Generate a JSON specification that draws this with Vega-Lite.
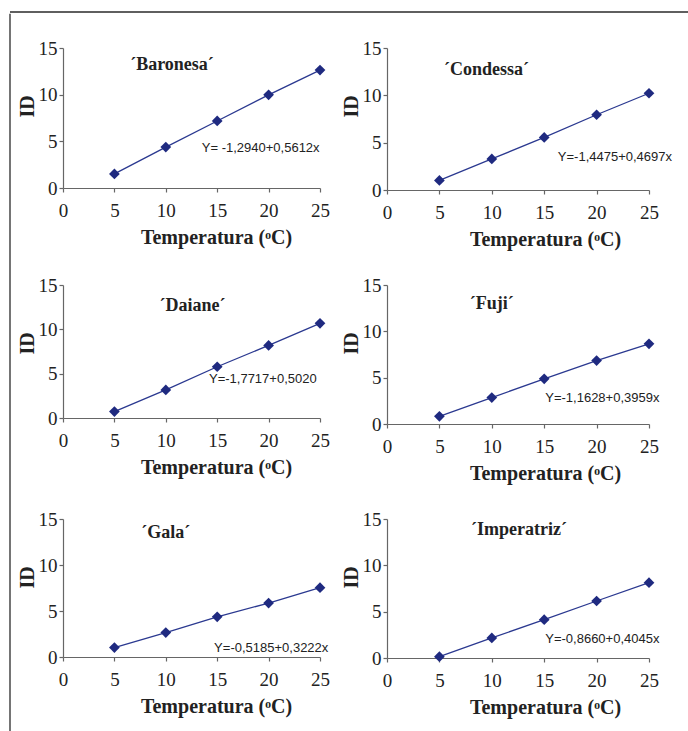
{
  "$schema": "https://vega.github.io/schema/vega-lite/v6.json",
  "padding": {"left": 9, "top": 11, "right": 0, "bottom": 0},
  "background": "white",
  "datasets": {
    "id": [
      {"cultivar": "Baronesa", "temperatura": 5, "ID": 1.51},
      {"cultivar": "Baronesa", "temperatura": 10, "ID": 4.38},
      {"cultivar": "Baronesa", "temperatura": 15, "ID": 7.18},
      {"cultivar": "Baronesa", "temperatura": 20, "ID": 9.98},
      {"cultivar": "Baronesa", "temperatura": 25, "ID": 12.63},
      {"cultivar": "Condessa", "temperatura": 5, "ID": 1.01},
      {"cultivar": "Condessa", "temperatura": 10, "ID": 3.28},
      {"cultivar": "Condessa", "temperatura": 15, "ID": 5.55},
      {"cultivar": "Condessa", "temperatura": 20, "ID": 7.95},
      {"cultivar": "Condessa", "temperatura": 25, "ID": 10.22},
      {"cultivar": "Daiane", "temperatura": 5, "ID": 0.72},
      {"cultivar": "Daiane", "temperatura": 10, "ID": 3.17},
      {"cultivar": "Daiane", "temperatura": 15, "ID": 5.78},
      {"cultivar": "Daiane", "temperatura": 20, "ID": 8.19},
      {"cultivar": "Daiane", "temperatura": 25, "ID": 10.68},
      {"cultivar": "Fuji", "temperatura": 5, "ID": 0.83},
      {"cultivar": "Fuji", "temperatura": 10, "ID": 2.85},
      {"cultivar": "Fuji", "temperatura": 15, "ID": 4.87},
      {"cultivar": "Fuji", "temperatura": 20, "ID": 6.85},
      {"cultivar": "Fuji", "temperatura": 25, "ID": 8.65},
      {"cultivar": "Gala", "temperatura": 5, "ID": 1.02},
      {"cultivar": "Gala", "temperatura": 10, "ID": 2.66},
      {"cultivar": "Gala", "temperatura": 15, "ID": 4.37},
      {"cultivar": "Gala", "temperatura": 20, "ID": 5.86},
      {"cultivar": "Gala", "temperatura": 25, "ID": 7.54},
      {"cultivar": "Imperatriz", "temperatura": 5, "ID": 0.14},
      {"cultivar": "Imperatriz", "temperatura": 10, "ID": 2.16},
      {"cultivar": "Imperatriz", "temperatura": 15, "ID": 4.14},
      {"cultivar": "Imperatriz", "temperatura": 20, "ID": 6.15},
      {"cultivar": "Imperatriz", "temperatura": 25, "ID": 8.13}
    ]
  },
  "config": {
    "view": {"stroke": null},
    "axis": {
      "labelFont": "Liberation Serif", "labelFontSize": 19, "labelColor": "#222",
      "titleFont": "Liberation Serif", "titleFontSize": 20, "titleFontWeight": "bold", "titleColor": "#222",
      "domainColor": "#666", "tickColor": "#666", "tickSize": 4, "grid": false, "domainWidth": 1.2, "tickWidth": 1.2,
      "labelOverlap": false
    },
    "axisX": {"values": [0, 5, 10, 15, 20, 25], "labelPadding": 9, "titlePadding": 7, "labelFlush": false},
    "axisY": {"values": [0, 5, 10, 15], "labelPadding": 2, "titlePadding": 1, "titleY": 58},
    "text": {"color": "#222"}
  },
  "spacing": 0,
  "vconcat": [
    {
      "width": 679, "height": 1,
      "data": {"values": [{}]},
      "mark": {"type": "rule", "color": "#2a2a2a", "strokeWidth": 1.3},
      "encoding": {
        "x": {"datum": 0, "scale": {"domain": [0, 1]}, "axis": null},
        "x2": {"datum": 1},
        "y": {"datum": 0, "scale": {"domain": [0, 1]}, "axis": null}
      }
    },
    {
      "spacing": 6,
      "hconcat": [
        {
          "width": 1, "height": 685,
          "data": {"values": [{}]},
          "mark": {"type": "rule", "color": "#2a2a2a", "strokeWidth": 1.3, "clip": false},
          "encoding": {
            "x": {"datum": 0, "scale": {"domain": [0, 1]}, "axis": null},
            "y": {"datum": 0, "scale": {"domain": [0, 1], "nice": false}, "axis": null},
            "y2": {"datum": 1.05}
          }
        },
        {
          "title": {"text": " ", "fontSize": 16, "offset": 4},
          "bounds": "flush",
          "columns": 2,
          "spacing": {"row": 95, "column": 67},
          "concat": [
            {
              "width": 257, "height": 140,
              "data": {"name": "id"},
              "transform": [{"filter": "datum.cultivar === 'Baronesa'"}],
              "layer": [
                {"mark": {"type": "line", "color": "#2b3990", "strokeWidth": 1.3},
                 "encoding": {
                   "x": {"field": "temperatura", "type": "quantitative", "scale": {"domain": [0, 25], "nice": false}, "axis": {"title": "Temperatura (ᵒC)", "titleX": 153}},
                   "y": {"field": "ID", "type": "quantitative", "scale": {"domain": [0, 15], "nice": false}, "axis": {"title": "ID"}}
                 }},
                {"mark": {"type": "point", "shape": "diamond", "filled": true, "size": 115, "color": "#1f2a80", "opacity": 1},
                 "encoding": {"x": {"field": "temperatura", "type": "quantitative"}, "y": {"field": "ID", "type": "quantitative"}}},
                {"transform": [{"filter": "datum.temperatura === 25"}],
                 "mark": {"type": "text", "font": "Liberation Serif", "fontSize": 18, "fontWeight": "bold", "align": "center", "baseline": "middle"},
                 "encoding": {"x": {"datum": 10.6, "type": "quantitative"}, "y": {"datum": 13.2, "type": "quantitative"}, "text": {"value": "´Baronesa´"}}},
                {"transform": [{"filter": "datum.temperatura === 25"}],
                 "mark": {"type": "text", "font": "Liberation Sans", "fontSize": 13, "align": "left", "baseline": "middle"},
                 "encoding": {"x": {"datum": 13.5, "type": "quantitative"}, "y": {"datum": 4.3, "type": "quantitative"}, "text": {"value": "Y= -1,2940+0,5612x"}}}
              ]
            },
            {
              "width": 262, "height": 142,
              "data": {"name": "id"},
              "transform": [{"filter": "datum.cultivar === 'Condessa'"}],
              "layer": [
                {"mark": {"type": "line", "color": "#2b3990", "strokeWidth": 1.3},
                 "encoding": {
                   "x": {"field": "temperatura", "type": "quantitative", "scale": {"domain": [0, 25], "nice": false}, "axis": {"title": "Temperatura (ᵒC)", "titleX": 158}},
                   "y": {"field": "ID", "type": "quantitative", "scale": {"domain": [0, 15], "nice": false}, "axis": {"title": "ID"}}
                 }},
                {"mark": {"type": "point", "shape": "diamond", "filled": true, "size": 115, "color": "#1f2a80", "opacity": 1},
                 "encoding": {"x": {"field": "temperatura", "type": "quantitative"}, "y": {"field": "ID", "type": "quantitative"}}},
                {"transform": [{"filter": "datum.temperatura === 25"}],
                 "mark": {"type": "text", "font": "Liberation Serif", "fontSize": 18, "fontWeight": "bold", "align": "center", "baseline": "middle"},
                 "encoding": {"x": {"datum": 9.5, "type": "quantitative"}, "y": {"datum": 12.7, "type": "quantitative"}, "text": {"value": "´Condessa´"}}},
                {"transform": [{"filter": "datum.temperatura === 25"}],
                 "mark": {"type": "text", "font": "Liberation Sans", "fontSize": 13, "align": "left", "baseline": "middle"},
                 "encoding": {"x": {"datum": 16.3, "type": "quantitative"}, "y": {"datum": 3.5, "type": "quantitative"}, "text": {"value": "Y=-1,4475+0,4697x"}}}
              ]
            },
            {
              "width": 257, "height": 133,
              "data": {"name": "id"},
              "transform": [{"filter": "datum.cultivar === 'Daiane'"}],
              "layer": [
                {"mark": {"type": "line", "color": "#2b3990", "strokeWidth": 1.3},
                 "encoding": {
                   "x": {"field": "temperatura", "type": "quantitative", "scale": {"domain": [0, 25], "nice": false}, "axis": {"title": "Temperatura (ᵒC)", "titleX": 153}},
                   "y": {"field": "ID", "type": "quantitative", "scale": {"domain": [0, 15], "nice": false}, "axis": {"title": "ID"}}
                 }},
                {"mark": {"type": "point", "shape": "diamond", "filled": true, "size": 115, "color": "#1f2a80", "opacity": 1},
                 "encoding": {"x": {"field": "temperatura", "type": "quantitative"}, "y": {"field": "ID", "type": "quantitative"}}},
                {"transform": [{"filter": "datum.temperatura === 25"}],
                 "mark": {"type": "text", "font": "Liberation Serif", "fontSize": 18, "fontWeight": "bold", "align": "center", "baseline": "middle"},
                 "encoding": {"x": {"datum": 12.6, "type": "quantitative"}, "y": {"datum": 12.6, "type": "quantitative"}, "text": {"value": "´Daiane´"}}},
                {"transform": [{"filter": "datum.temperatura === 25"}],
                 "mark": {"type": "text", "font": "Liberation Sans", "fontSize": 13, "align": "left", "baseline": "middle"},
                 "encoding": {"x": {"datum": 14.2, "type": "quantitative"}, "y": {"datum": 4.4, "type": "quantitative"}, "text": {"value": "Y=-1,7717+0,5020"}}}
              ]
            },
            {
              "width": 262, "height": 139,
              "data": {"name": "id"},
              "transform": [{"filter": "datum.cultivar === 'Fuji'"}],
              "layer": [
                {"mark": {"type": "line", "color": "#2b3990", "strokeWidth": 1.3},
                 "encoding": {
                   "x": {"field": "temperatura", "type": "quantitative", "scale": {"domain": [0, 25], "nice": false}, "axis": {"title": "Temperatura (ᵒC)", "titleX": 158}},
                   "y": {"field": "ID", "type": "quantitative", "scale": {"domain": [0, 15], "nice": false}, "axis": {"title": "ID"}}
                 }},
                {"mark": {"type": "point", "shape": "diamond", "filled": true, "size": 115, "color": "#1f2a80", "opacity": 1},
                 "encoding": {"x": {"field": "temperatura", "type": "quantitative"}, "y": {"field": "ID", "type": "quantitative"}}},
                {"transform": [{"filter": "datum.temperatura === 25"}],
                 "mark": {"type": "text", "font": "Liberation Serif", "fontSize": 18, "fontWeight": "bold", "align": "center", "baseline": "middle"},
                 "encoding": {"x": {"datum": 10, "type": "quantitative"}, "y": {"datum": 12.9, "type": "quantitative"}, "text": {"value": "´Fuji´"}}},
                {"transform": [{"filter": "datum.temperatura === 25"}],
                 "mark": {"type": "text", "font": "Liberation Sans", "fontSize": 13, "align": "left", "baseline": "middle"},
                 "encoding": {"x": {"datum": 15.1, "type": "quantitative"}, "y": {"datum": 2.8, "type": "quantitative"}, "text": {"value": "Y=-1,1628+0,3959x"}}}
              ]
            },
            {
              "width": 257, "height": 138,
              "data": {"name": "id"},
              "transform": [{"filter": "datum.cultivar === 'Gala'"}],
              "layer": [
                {"mark": {"type": "line", "color": "#2b3990", "strokeWidth": 1.3},
                 "encoding": {
                   "x": {"field": "temperatura", "type": "quantitative", "scale": {"domain": [0, 25], "nice": false}, "axis": {"title": "Temperatura (ᵒC)", "titleX": 153}},
                   "y": {"field": "ID", "type": "quantitative", "scale": {"domain": [0, 15], "nice": false}, "axis": {"title": "ID"}}
                 }},
                {"mark": {"type": "point", "shape": "diamond", "filled": true, "size": 115, "color": "#1f2a80", "opacity": 1},
                 "encoding": {"x": {"field": "temperatura", "type": "quantitative"}, "y": {"field": "ID", "type": "quantitative"}}},
                {"transform": [{"filter": "datum.temperatura === 25"}],
                 "mark": {"type": "text", "font": "Liberation Serif", "fontSize": 18, "fontWeight": "bold", "align": "center", "baseline": "middle"},
                 "encoding": {"x": {"datum": 10, "type": "quantitative"}, "y": {"datum": 13.5, "type": "quantitative"}, "text": {"value": "´Gala´"}}},
                {"transform": [{"filter": "datum.temperatura === 25"}],
                 "mark": {"type": "text", "font": "Liberation Sans", "fontSize": 13, "align": "left", "baseline": "middle"},
                 "encoding": {"x": {"datum": 14.7, "type": "quantitative"}, "y": {"datum": 1.0, "type": "quantitative"}, "text": {"value": "Y=-0,5185+0,3222x"}}}
              ]
            },
            {
              "width": 262, "height": 139,
              "data": {"name": "id"},
              "transform": [{"filter": "datum.cultivar === 'Imperatriz'"}],
              "layer": [
                {"mark": {"type": "line", "color": "#2b3990", "strokeWidth": 1.3},
                 "encoding": {
                   "x": {"field": "temperatura", "type": "quantitative", "scale": {"domain": [0, 25], "nice": false}, "axis": {"title": "Temperatura (ᵒC)", "titleX": 158}},
                   "y": {"field": "ID", "type": "quantitative", "scale": {"domain": [0, 15], "nice": false}, "axis": {"title": "ID"}}
                 }},
                {"mark": {"type": "point", "shape": "diamond", "filled": true, "size": 115, "color": "#1f2a80", "opacity": 1},
                 "encoding": {"x": {"field": "temperatura", "type": "quantitative"}, "y": {"field": "ID", "type": "quantitative"}}},
                {"transform": [{"filter": "datum.temperatura === 25"}],
                 "mark": {"type": "text", "font": "Liberation Serif", "fontSize": 18, "fontWeight": "bold", "align": "center", "baseline": "middle"},
                 "encoding": {"x": {"datum": 12.6, "type": "quantitative"}, "y": {"datum": 13.8, "type": "quantitative"}, "text": {"value": "´Imperatriz´"}}},
                {"transform": [{"filter": "datum.temperatura === 25"}],
                 "mark": {"type": "text", "font": "Liberation Sans", "fontSize": 13, "align": "left", "baseline": "middle"},
                 "encoding": {"x": {"datum": 15.1, "type": "quantitative"}, "y": {"datum": 2.05, "type": "quantitative"}, "text": {"value": "Y=-0,8660+0,4045x"}}}
              ]
            }
          ]
        }
      ]
    }
  ]
}
